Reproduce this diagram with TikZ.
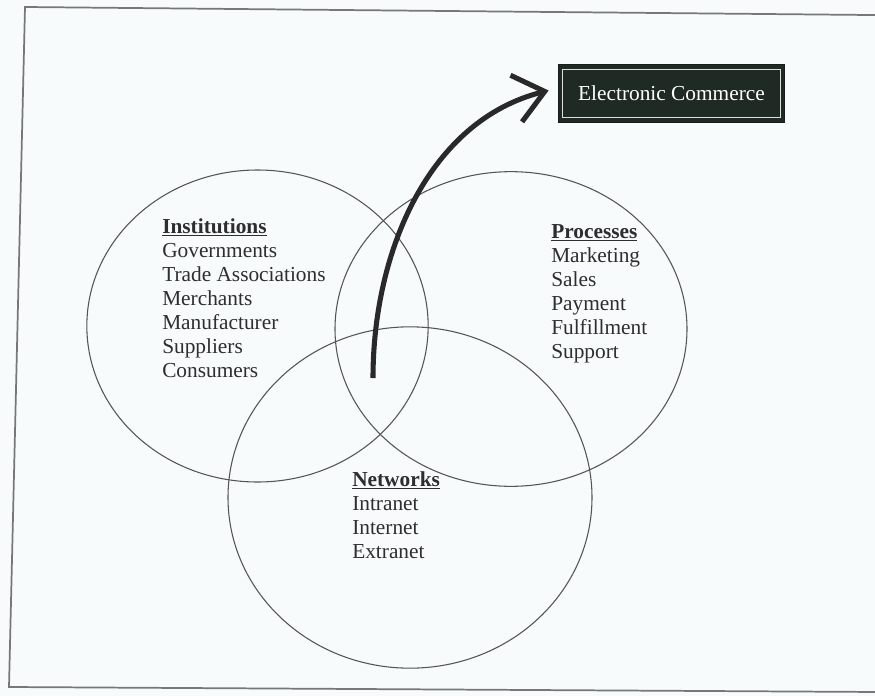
\documentclass[tikz,border=0pt]{standalone}
\usepackage{fontspec}
\setmainfont{Liberation Serif}
\usetikzlibrary{shapes.geometric,arrows.meta}
\definecolor{paper}{HTML}{F7FBFB}
\definecolor{ink}{HTML}{2E2E2E}
\definecolor{rim}{HTML}{555555}
\definecolor{boxfill}{HTML}{1F2A25}
\begin{document}
\begin{tikzpicture}[x=0.75pt,y=-0.75pt,
  setcirc/.style={draw=rim, line width=0.8pt, ellipse, inner sep=0pt},
  % anchored at the baseline of the last line of each list
  setlist/.style={anchor=base west, align=left, text=ink, inner sep=0pt,
                  font=\fontsize{16}{18}\selectfont},
  flow/.style={draw=ink!90!black, line width=3.8pt,
               -{Straight Barb[length=22pt,width=36pt]}},
  titlebox/.style={fill=boxfill, draw=boxfill!70!black, line width=0.8pt,
                   minimum width=170pt, minimum height=43pt, inner sep=0pt,
                   text=white, font=\fontsize{16}{18}\selectfont}]
  % page and outer frame
  \fill[paper] (0,0) rectangle (875,696);
  \useasboundingbox (0,0) rectangle (875,696);
  \draw[rim!80, line width=1.3pt] (880,15.1) -- (25,7) -- (9,687) -- (880,692);

  % the three sets
  \node[setcirc, minimum width=256pt, minimum height=234pt] (inst) at (257.5,326) {};
  \node[setcirc, minimum width=264pt, minimum height=236pt] (proc) at (511,329) {};
  \node[setcirc, minimum width=273pt, minimum height=256pt] (netw) at (410,497.5) {};

  % labels of the sets
  \node[setlist] (instlist) at (162,377)
    {\textbf{\underline{Institutions}}\\ Governments\\ Trade Associations\\
     Merchants\\ Manufacturer\\ Suppliers\\ Consumers};
  \node[setlist] (proclist) at (551,358)
    {\textbf{\underline{Processes}}\\ Marketing\\ Sales\\ Payment\\
     Fulfillment\\ Support};
  \node[setlist] (netwlist) at (352,558)
    {\textbf{\underline{Networks}}\\ Intranet\\ Internet\\ Extranet};

  % outcome box
  \node[titlebox] (ec) at (671.5,93.5) {Electronic Commerce};
  \draw[white!75!gray, line width=0.6pt]
    ([shift={(5,5)}]ec.north west) rectangle ([shift={(-5,-5)}]ec.south east);

  % arrow from the overlap to the outcome
  \coordinate (core) at (373,378);
  \draw[flow] (core) .. controls (373,250) and (430,120) .. ([shift={(-9,-3)}]ec.west);
\end{tikzpicture}
\end{document}
